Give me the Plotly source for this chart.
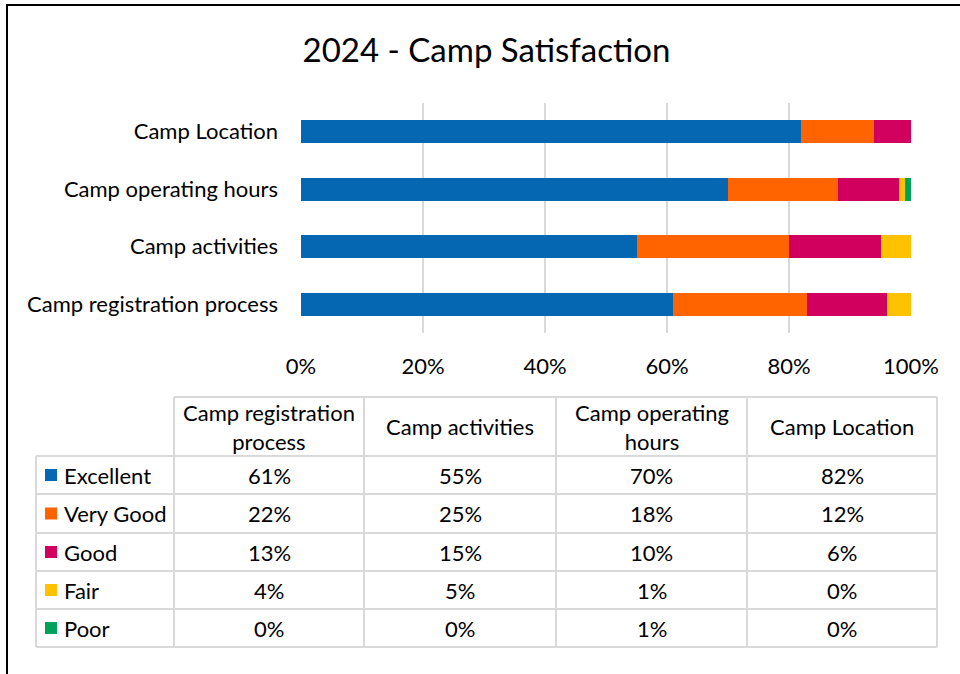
import plotly.graph_objects as go

categories = ["Camp registration process", "Camp activities", "Camp operating hours", "Camp Location"]
table_headers = ["Camp registration<br>process", "Camp activities", "Camp operating<br>hours", "Camp Location"]
series_names = ["Excellent", "Very Good", "Good", "Fair", "Poor"]
excellent = [61, 55, 70, 82]
very_good = [22, 25, 18, 12]
good = [13, 15, 10, 6]
fair = [4, 5, 1, 0]
poor = [0, 0, 1, 0]
series_values = [excellent, very_good, good, fair, poor]
colors = ["#0567B1", "#FF6400", "#D1005F", "#FFC200", "#00A15A"]
x_ticks = [0, 20, 40, 60, 80, 100]
x_ticklabels = ["0%", "20%", "40%", "60%", "80%", "100%"]

W, H = 960, 674
ML, MR, MT, MB = 301, 49, 103, 341
PW, PH = W - ML - MR, H - MT - MB
FONT = "Lato"
FS = 22

def fx(px):
    return (px - ML) / PW

def fy(py):
    return (H - MB - py) / PH

fig = go.Figure()
for name, vals, col in zip(series_names, series_values, colors):
    fig.add_trace(go.Bar(
        y=categories, x=vals, name=name, orientation="h",
        marker=dict(color=col, line=dict(width=0)),
        hoverinfo="x+y+name",
    ))

shapes = []
annotations = []

# chart border (left and top edges only visible)
shapes.append(dict(type="line", xref="paper", yref="paper",
                   x0=fx(7), x1=fx(7), y0=fy(700), y1=fy(5),
                   line=dict(color="black", width=2)))
shapes.append(dict(type="line", xref="paper", yref="paper",
                   x0=fx(6), x1=fx(990), y0=fy(5), y1=fy(5),
                   line=dict(color="black", width=2)))

# data table
col_edges = [36, 174, 364, 556, 747, 937]
row_edges = [397, 456, 494, 533, 571, 609, 647]
grid_col = "#D9D9D9"
for i in range(1, len(col_edges)):
    shapes.append(dict(type="line", xref="paper", yref="paper",
                       x0=fx(col_edges[i]), x1=fx(col_edges[i]),
                       y0=fy(row_edges[0]), y1=fy(row_edges[-1]),
                       line=dict(color=grid_col, width=2)))
shapes.append(dict(type="line", xref="paper", yref="paper",
                   x0=fx(col_edges[0]), x1=fx(col_edges[0]),
                   y0=fy(row_edges[1]), y1=fy(row_edges[-1]),
                   line=dict(color=grid_col, width=2)))
shapes.append(dict(type="line", xref="paper", yref="paper",
                   x0=fx(col_edges[1]), x1=fx(col_edges[-1]),
                   y0=fy(row_edges[0]), y1=fy(row_edges[0]),
                   line=dict(color=grid_col, width=2)))
for j in range(1, len(row_edges)):
    shapes.append(dict(type="line", xref="paper", yref="paper",
                       x0=fx(col_edges[0]), x1=fx(col_edges[-1]),
                       y0=fy(row_edges[j]), y1=fy(row_edges[j]),
                       line=dict(color=grid_col, width=2)))

for i, htxt in enumerate(table_headers):
    cx = (col_edges[i + 1] + col_edges[i + 2]) / 2
    cy = (row_edges[0] + row_edges[1]) / 2
    annotations.append(dict(xref="paper", yref="paper", x=fx(cx), y=fy(cy),
                            text=htxt, showarrow=False, xanchor="center", yanchor="middle",
                            font=dict(family=FONT, size=FS, color="black")))

for r, (name, vals, col) in enumerate(zip(series_names, series_values, colors)):
    cy = (row_edges[r + 1] + row_edges[r + 2]) / 2
    shapes.append(dict(type="rect", xref="paper", yref="paper",
                       x0=fx(45), x1=fx(57), y0=fy(cy + 6), y1=fy(cy - 6),
                       fillcolor=col, line=dict(width=0)))
    annotations.append(dict(xref="paper", yref="paper", x=fx(62), y=fy(cy),
                            text=name, showarrow=False, xanchor="left", yanchor="middle",
                            font=dict(family=FONT, size=FS, color="black")))
    for i, v in enumerate(vals):
        cx = (col_edges[i + 1] + col_edges[i + 2]) / 2
        annotations.append(dict(xref="paper", yref="paper", x=fx(cx), y=fy(cy),
                                text=f"{v}%", showarrow=False, xanchor="center", yanchor="middle",
                                font=dict(family=FONT, size=FS, color="black")))

fig.update_layout(
    width=W, height=H,
    margin=dict(l=ML, r=MR, t=MT, b=MB),
    barmode="stack",
    bargap=0.6,
    showlegend=False,
    paper_bgcolor="white",
    plot_bgcolor="white",
    title=dict(text="2024 - Camp Satisfaction", x=(300 + 673) / 2 / W, xanchor="center",
               y=1 - 50 / H, yanchor="middle",
               font=dict(family=FONT, size=33, color="black")),
    xaxis=dict(range=[0, 100], tickvals=x_ticks, ticktext=x_ticklabels,
               showgrid=True, gridcolor="#D9D9D9", gridwidth=2,
               zeroline=False, showline=False, ticks="",
               ticklabelstandoff=18,
               tickfont=dict(family=FONT, size=FS, color="black"), fixedrange=True),
    yaxis=dict(categoryorder="array", categoryarray=categories,
               showgrid=False, zeroline=False, showline=False, ticks="",
               ticklabelstandoff=22,
               tickfont=dict(family=FONT, size=FS, color="black"), fixedrange=True),
    shapes=shapes,
    annotations=annotations,
)

fig.write_html("out.html", config={"displayModeBar": False},
               post_script="document.body.style.margin='0px';document.body.style.overflow='hidden';")
